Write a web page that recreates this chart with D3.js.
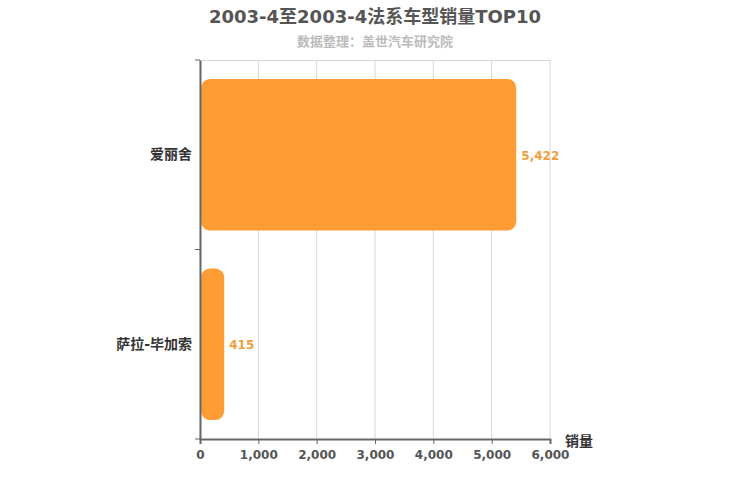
<!DOCTYPE html>
<html>
<head>
<meta charset="utf-8">
<script src="https://cdn.jsdelivr.net/npm/d3@7"></script>
<style>
  body { margin: 0; background: #fff; }
  text { font-family: "DejaVu Sans", "Noto Sans CJK SC", sans-serif; }
</style>
</head>
<body>
<div class="chart"></div>
<script>
// chart data
var categories = ["爱丽舍", "萨拉-毕加索"];
var sales = [5422, 415];
var xTicks = [0, 1000, 2000, 3000, 4000, 5000, 6000];

var width = 750, height = 500;
var margin = {top: 60, right: 200, bottom: 61, left: 200};

var svg = d3.select(".chart").append("svg")
    .attr("width", width)
    .attr("height", height);

// title + subtitle
svg.append("text")
    .attr("x", 375).attr("y", 23)
    .attr("text-anchor", "middle")
    .attr("font-size", 18).attr("font-weight", "bold")
    .attr("fill", "#555")
    .text("2003-4至2003-4法系车型销量TOP10");
svg.append("text")
    .attr("x", 375).attr("y", 46)
    .attr("text-anchor", "middle")
    .attr("font-size", 13).attr("font-weight", "bold")
    .attr("font-family", "Noto Sans CJK JP")
    .attr("fill", "#bbb")
    .text("数据整理：盖世汽车研究院");

var x = d3.scaleLinear().domain([0, 6000]).range([margin.left, width - margin.right]);
var y = d3.scaleBand().domain(categories)
    .range([margin.top, height - margin.bottom])
    .paddingInner(0.2).paddingOuter(0.1);

// vertical grid lines
svg.append("g").selectAll("line")
    .data(xTicks)
    .enter().append("line")
    .attr("x1", d => x(d)).attr("x2", d => x(d))
    .attr("y1", margin.top).attr("y2", height - margin.bottom)
    .attr("stroke", "#d8d8d8");
svg.append("line")
    .attr("x1", x(0)).attr("x2", x(6000))
    .attr("y1", margin.top + 0.5).attr("y2", margin.top + 0.5)
    .attr("stroke", "#d8d8d8");

// bars
svg.append("g").selectAll("rect")
    .data(sales)
    .enter().append("rect")
    .attr("x", x(0) + 1)
    .attr("y", (d, i) => y(categories[i]))
    .attr("width", d => x(d) - x(0) - 1)
    .attr("height", y.bandwidth())
    .attr("rx", 9).attr("ry", 9)
    .attr("fill", "#ff9c33");

// value labels
svg.append("g").selectAll("text")
    .data(sales)
    .enter().append("text")
    .attr("x", d => x(d) + 5)
    .attr("y", (d, i) => y(categories[i]) + y.bandwidth() / 2 + 1)
    .attr("dy", "0.35em")
    .attr("font-size", 12).attr("font-weight", "bold")
    .attr("fill", "#f0a040")
    .text(d => d3.format(",")(d));

// x axis
var xAxis = svg.append("g")
    .attr("transform", "translate(0," + (height - margin.bottom) + ")")
    .call(d3.axisBottom(x).tickValues(xTicks).tickSize(5).tickFormat(d3.format(",")));
xAxis.select(".domain").attr("stroke", "#666").attr("stroke-width", 2);
xAxis.selectAll(".tick line").attr("stroke", "#666");
xAxis.selectAll(".tick text")
    .attr("font-size", 12).attr("font-weight", "bold")
    .attr("fill", "#555").attr("font-family", "DejaVu Sans")
    .attr("dy", "1em");

// y axis
var yAxis = svg.append("g")
    .attr("transform", "translate(" + margin.left + ",0)")
    .call(d3.axisLeft(y).tickSize(0).tickPadding(8));
yAxis.select(".domain").attr("stroke", "#666").attr("stroke-width", 2);
yAxis.selectAll(".tick text")
    .attr("font-size", 14).attr("font-weight", "bold")
    .attr("fill", "#333").attr("font-family", "Noto Sans CJK SC");

// band boundary ticks on y axis
var bounds = [margin.top, (margin.top + height - margin.bottom) / 2, height - margin.bottom];
svg.append("g").selectAll("line")
    .data(bounds)
    .enter().append("line")
    .attr("x1", margin.left - 5).attr("x2", margin.left)
    .attr("y1", d => d).attr("y2", d => d)
    .attr("stroke", "#666");

// axis name
svg.append("text")
    .attr("x", 565).attr("y", 446)
    .attr("font-size", 14).attr("font-weight", "bold")
    .attr("fill", "#333").attr("font-family", "Noto Sans CJK SC")
    .text("销量");
</script>
</body>
</html>
